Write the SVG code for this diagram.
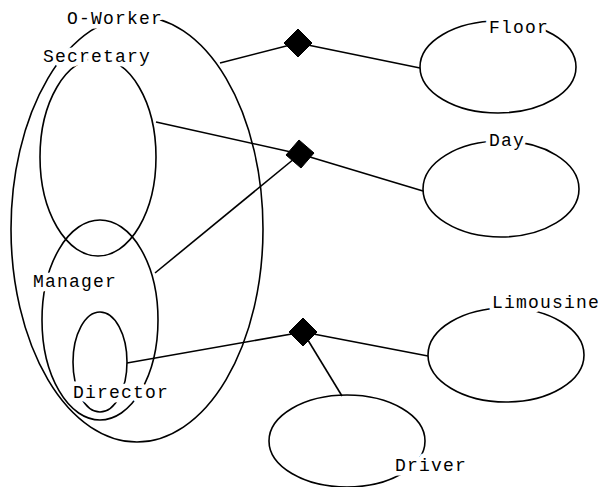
<svg xmlns="http://www.w3.org/2000/svg" width="605" height="487" viewBox="0 0 605 487">
<style>
.e{fill:none;stroke:#000;stroke-width:1.6}
.c{stroke:#000;stroke-width:1.6;fill:none}
.d{fill:#000;stroke:#000;stroke-width:1}
.t{font-family:"Liberation Mono","DejaVu Sans Mono",monospace;font-size:18px;letter-spacing:1.2px;fill:#000;stroke:#fff;stroke-width:9px;stroke-linejoin:round;paint-order:stroke}
</style>
<rect width="605" height="487" fill="#fff"/>
<g id="shapes">
<g id="oworker"><ellipse class="e" cx="137" cy="229" rx="126" ry="213"/></g>
<g id="secretary"><ellipse class="e" cx="98" cy="157" rx="58" ry="99"/></g>
<g id="manager"><ellipse class="e" cx="100" cy="320" rx="58" ry="100"/></g>
<g id="director"><ellipse class="e" cx="100" cy="362" rx="27" ry="50"/></g>
<g id="floor"><ellipse class="e" cx="498" cy="67" rx="78" ry="46"/></g>
<g id="day"><ellipse class="e" cx="501" cy="189" rx="78" ry="48"/></g>
<g id="limousine"><ellipse class="e" cx="506" cy="355" rx="78" ry="47"/></g>
<g id="driver"><ellipse class="e" cx="347" cy="441" rx="78" ry="46"/></g>
</g>
<g id="connectors">
<line class="c" x1="220" y1="63" x2="298" y2="43"/>
<line class="c" x1="298" y1="43" x2="420" y2="68"/>
<line class="c" x1="156" y1="122" x2="300" y2="154"/>
<line class="c" x1="155" y1="273" x2="300" y2="154"/>
<line class="c" x1="300" y1="154" x2="423" y2="191"/>
<line class="c" x1="127" y1="363" x2="303" y2="332"/>
<line class="c" x1="303" y1="332" x2="428" y2="356"/>
<line class="c" x1="303" y1="332" x2="342" y2="396"/>
</g>
<g id="rel1"><polygon class="d" points="298,29 312,43 298,57 284,43"/></g>
<g id="rel2"><polygon class="d" points="299,140 314,153 301,168 286,155"/></g>
<g id="rel3"><polygon class="d" points="303,318 317,332 303,346 289,332"/></g>
<g id="labels">
<text class="t" x="67" y="24">O-Worker</text>
<text class="t" x="43" y="62">Secretary</text>
<text class="t" x="33" y="287">Manager</text>
<text class="t" x="73" y="398">Director</text>
<text class="t" x="489" y="33">Floor</text>
<text class="t" x="489" y="146">Day</text>
<text class="t" x="492" y="308">Limousine</text>
<text class="t" x="395" y="471">Driver</text>
</g>
</svg>
